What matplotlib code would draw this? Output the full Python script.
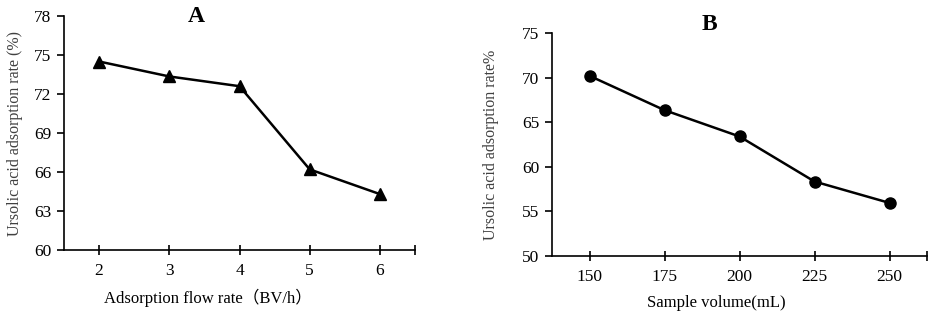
import matplotlib
matplotlib.use("Agg")
import matplotlib.pyplot as plt
from matplotlib.ticker import FixedLocator

# panel A data
flow_rate = [2, 3, 4, 5, 6]
rate_a = [74.5, 73.35, 72.6, 66.2, 64.3]

# panel B data
sample_volume = [150, 175, 200, 225, 250]
rate_b = [70.2, 66.35, 63.4, 58.35, 55.95]

plt.rcParams["font.family"] = ["Liberation Serif", "Noto Sans CJK SC"]

fig = plt.figure(figsize=(9.35, 3.15), dpi=100)
W, H = 935, 315


def px_axes(x0, y0, x1, y1):
    return fig.add_axes([x0 / W, 1 - y1 / H, (x1 - x0) / W, (y1 - y0) / H])


def style(ax):
    for s in ("top", "right"):
        ax.spines[s].set_visible(False)
    for s in ("left", "bottom"):
        ax.spines[s].set_linewidth(1.2)
    ax.tick_params(axis="y", direction="out", length=5, width=1.2, labelsize=12.5, pad=4)
    ax.tick_params(axis="x", direction="inout", length=7, width=1.2, labelsize=12.5, pad=6)
    ax.tick_params(axis="x", which="minor", direction="inout", length=7, width=1.2)


# --- A ---
ax1 = px_axes(64, 16, 415, 250)
ax1.plot(flow_rate, rate_a, color="black", lw=1.8, marker="^", ms=8, clip_on=False)
ax1.set_xlim(1.5, 6.5)
ax1.set_ylim(60, 78)
ax1.set_xticks(flow_rate)
ax1.xaxis.set_minor_locator(FixedLocator([6.5]))
ax1.set_yticks([60, 63, 66, 69, 72, 75, 78])
style(ax1)
ax1.set_xlabel("Adsorption flow rate（BV/h）", fontsize=12)
ax1.xaxis.set_label_coords((208 - 64) / (415 - 64), -0.165)
ax1.set_ylabel("Ursolic acid adsorption rate (%)", fontsize=11.5, color="#404040", labelpad=8)
fig.text(196 / W, 1 - 16 / H, "A", fontsize=17, fontweight="bold", ha="center", va="center")

# --- B ---
ax2 = px_axes(552, 33, 927, 256)
ax2.plot(sample_volume, rate_b, color="black", lw=1.8, marker="o", ms=8, clip_on=False)
ax2.set_xlim(137.5, 262.5)
ax2.set_ylim(50, 75)
ax2.set_xticks(sample_volume)
ax2.xaxis.set_minor_locator(FixedLocator([262.5]))
ax2.set_yticks([50, 55, 60, 65, 70, 75])
style(ax2)
ax2.set_xlabel("Sample volume(mL)", fontsize=12)
ax2.xaxis.set_label_coords((716 - 552) / (927 - 552), -0.175)
ax2.set_ylabel("Ursolic acid adsorption rate%", fontsize=11.5, color="#404040", labelpad=17)
fig.text(709 / W, 1 - 25 / H, "B", fontsize=17, fontweight="bold", ha="center", va="center")

fig.savefig("out.png", dpi=100)
